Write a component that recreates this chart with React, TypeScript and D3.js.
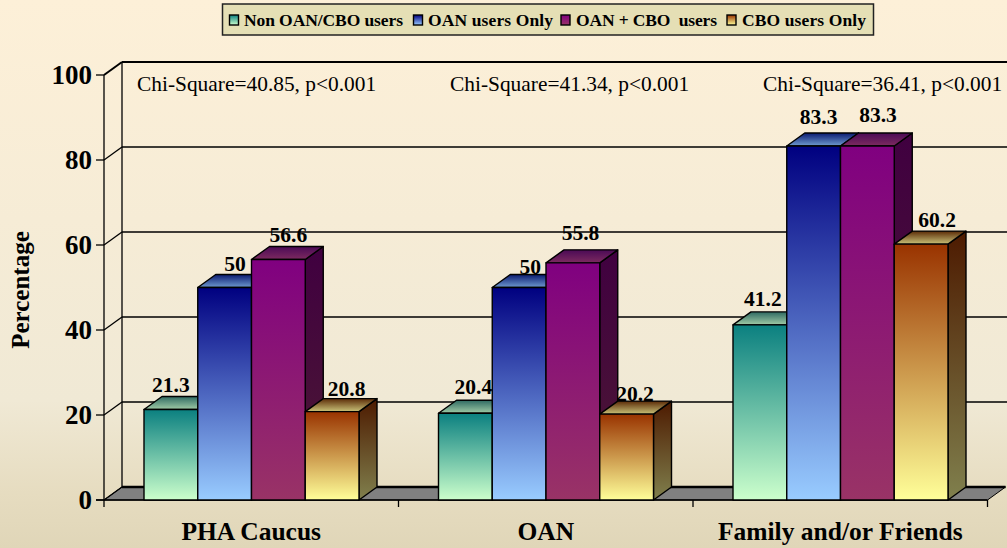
import React from "react";
import * as d3 from "d3";

const categories = ["PHA Caucus", "OAN", "Family and/or Friends"];
const seriesNames = ["Non OAN/CBO users", "OAN users Only", "OAN + CBO  users", "CBO users Only"];
const nonUsers = [21.3, 20.4, 41.2];
const oanOnly = [50, 50, 83.3];
const oanCbo = [56.6, 55.8, 83.3];
const cboOnly = [20.8, 20.2, 60.2];
const chiLabels = ["Chi-Square=40.85, p<0.001", "Chi-Square=41.34, p<0.001", "Chi-Square=36.41, p<0.001"];
const yTicks = [0, 20, 40, 60, 80, 100];

const series = [nonUsers, oanOnly, oanCbo, cboOnly];
const palette = [
  { top: "#0b8080", bottom: "#ccffcc", topBack: "#2f6a62", topFront: "#a0cba6", sideA: "#064040", sideB: "#668066" },
  { top: "#000080", bottom: "#99ccff", topBack: "#0a1a70", topFront: "#6f9ad0", sideA: "#000040", sideB: "#4d6680" },
  { top: "#800080", bottom: "#993366", topBack: "#4a0a55", topFront: "#7d2a60", sideA: "#400040", sideB: "#4d1a33" },
  { top: "#993300", bottom: "#ffff99", topBack: "#5c2c08", topFront: "#c9c278", sideA: "#4d1a00", sideB: "#80804d" },
];

const W = 1007, H = 548;
const DX = 18, DY = 13;
const FONT = "'Liberation Serif', 'Times New Roman', serif";

const y = d3.scaleLinear().domain([0, 100]).range([500, 75]);
const xBand = d3.scaleBand<string>().domain(categories).range([104, 987.5]);
const groupPad = 40;
const xSeries = d3
  .scaleBand<number>()
  .domain(d3.range(series.length))
  .range([groupPad, xBand.bandwidth() - groupPad + 0.5]);

// Label nudges relative to the bar centre, [dx, dy]
const labelShift = [
  [[0, 0], [10.4, 0.5], [10, 0], [14.5, 1.4]],
  [[8, -2.3], [11, 3.5], [7.6, -6], [8.4, 4]],
  [[3, -2], [5, -5], [10.6, -7], [16, 0]],
];
const legendX = [229.5, 413.5, 561, 727];
const legendTextX = [244, 428, 576, 742];
const legendTextLen = [159, 125, 141, 124];

export default function App() {
  const bw = xSeries.bandwidth();
  const floorRight = xBand.range()[1];
  return (
    <svg
      width={W}
      height={H}
      style={{ position: "absolute", left: 0, top: 0, display: "block" }}
      fontFamily={FONT}
      fill="#000"
    >
      <defs>
        <linearGradient id="bg" x1="0" y1="0" x2="0" y2="1">
          <stop offset="0" stopColor="#fdf0d8" />
          <stop offset="0.4" stopColor="#f6ecd6" />
          <stop offset="0.73" stopColor="#f0e9d5" />
          <stop offset="0.9" stopColor="#e6dcc0" />
          <stop offset="1" stopColor="#e0d6b8" />
        </linearGradient>
        {palette.map((p, i) => (
          <React.Fragment key={i}>
            <linearGradient id={`front${i}`} x1="0" y1="0" x2="0" y2="1">
              <stop offset="0" stopColor={p.top} />
              <stop offset="1" stopColor={p.bottom} />
            </linearGradient>
            <linearGradient id={`side${i}`} x1="0" y1="0" x2="0" y2="1">
              <stop offset="0" stopColor={p.sideA} />
              <stop offset="1" stopColor={p.sideB} />
            </linearGradient>
            <linearGradient id={`topf${i}`} x1="0" y1="0" x2="0" y2="1">
              <stop offset="0" stopColor={p.topBack} />
              <stop offset="1" stopColor={p.topFront} />
            </linearGradient>
          </React.Fragment>
        ))}
      </defs>
      <rect width={W} height={H} fill="url(#bg)" />

      {/* floor */}
      <polygon
        points={`${xBand.range()[0]},${y(0)} ${xBand.range()[0] + DX},${y(0) - DY} ${floorRight + DX},${y(0) - DY} ${floorRight},${y(0)}`}
        fill="#808080"
        stroke="#000"
        strokeWidth={1}
      />
      <line x1={104 + DX} x2={floorRight + DX} y1={y(0) - DY} y2={y(0) - DY} stroke="#000" strokeWidth={2.5} />

      {/* walls and grid */}
      <line x1={104} x2={104} y1={y(100)} y2={y(0)} stroke="#000" strokeWidth={1.3} />
      <line x1={104 + DX} x2={104 + DX} y1={y(100) - DY} y2={y(0) - DY} stroke="#000" strokeWidth={1.3} />
      {yTicks.map((t) => (
        <g key={t} stroke="#000" strokeWidth={1.3}>
          {t > 0 && <line x1={104 + DX} x2={W} y1={y(t) - DY} y2={y(t) - DY} strokeWidth={t === 100 ? 2.2 : 1.3} />}
          <line x1={104} x2={104 + DX} y1={y(t)} y2={y(t) - DY} strokeWidth={t === 100 ? 2 : 1.3} />
          <line x1={96} x2={104} y1={y(t)} y2={y(t)} />
        </g>
      ))}
      {yTicks.map((t) => (
        <text key={t} x={92} y={y(t) + 9} fontSize={27} fontWeight="bold" textAnchor="end">
          {t}
        </text>
      ))}

      {/* category axis */}
      <line x1={96} x2={floorRight} y1={y(0)} y2={y(0)} stroke="#000" strokeWidth={1.5} />
      {[...categories.map((c) => xBand(c)!), floorRight].map((x, i) => (
        <line key={i} x1={x} x2={x} y1={y(0)} y2={y(0) + 7} stroke="#000" strokeWidth={1.3} />
      ))}
      {categories.map((c) => (
        <text
          key={c}
          x={xBand(c)! + xBand.bandwidth() / 2}
          y={540}
          fontSize={25.5}
          fontWeight="bold"
          textAnchor="middle"
        >
          {c}
        </text>
      ))}

      {/* bars */}
      {categories.map((c, ci) => (
        <g key={c}>
          {series.map((s, si) => {
            const x0 = xBand(c)! + xSeries(si)!;
            const x1 = x0 + bw;
            const yt = y(s[ci]);
            const yb = y(0);
            return (
              <g key={si} stroke="#000" strokeWidth={1.4} strokeLinejoin="round">
                <polygon
                  points={`${x1},${yt} ${x1 + DX},${yt - DY} ${x1 + DX},${yb - DY} ${x1},${yb}`}
                  fill={`url(#side${si})`}
                />
                <polygon
                  points={`${x0},${yt} ${x0 + DX},${yt - DY} ${x1 + DX},${yt - DY} ${x1},${yt}`}
                  fill={`url(#topf${si})`}
                />
                <rect x={x0} y={yt} width={bw} height={yb - yt} fill={`url(#front${si})`} />
              </g>
            );
          })}
        </g>
      ))}

      {/* value labels */}
      {categories.map((c, ci) =>
        series.map((s, si) => {
          const x0 = xBand(c)! + xSeries(si)!;
          const [dx, dy] = labelShift[ci][si];
          return (
            <text
              key={`${ci}-${si}`}
              x={x0 + bw / 2 + dx}
              y={y(s[ci]) - 17 + dy}
              fontSize={21.5}
              fontWeight="bold"
              textAnchor="middle"
            >
              {s[ci]}
            </text>
          );
        })
      )}

      {/* annotations */}
      {chiLabels.map((t, i) => (
        <text key={t} x={137 + i * 313} y={91} fontSize={21.4}>
          {t}
        </text>
      ))}

      <text
        transform="translate(29,290) rotate(-90)"
        fontSize={25}
        fontWeight="bold"
        textAnchor="middle"
      >
        Percentage
      </text>

      {/* legend */}
      <rect x={222.5} y={4} width={651} height={31} fill="#e5dfb5" stroke="#222" strokeWidth={1.5} />
      {seriesNames.map((n, i) => (
        <g key={n}>
          <rect
            x={legendX[i]}
            y={15}
            width={9}
            height={10}
            fill={`url(#front${i})`}
            stroke="#000"
            strokeWidth={1.4}
          />
          <text
            x={legendTextX[i]}
            y={26}
            fontSize={17.5}
            fontWeight="bold"
            textLength={legendTextLen[i]}
            lengthAdjust="spacing"
            style={{ whiteSpace: "pre" }}
          >
            {n}
          </text>
        </g>
      ))}
    </svg>
  );
}
